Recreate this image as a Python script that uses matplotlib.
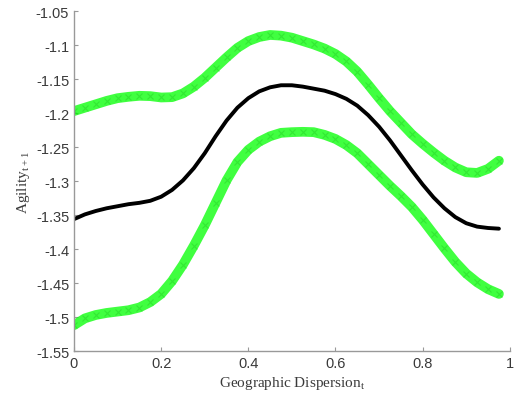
import numpy as np
import matplotlib.pyplot as plt

# data
x = [0, 0.025, 0.05, 0.075, 0.1, 0.125, 0.15, 0.175, 0.2, 0.225,
     0.25, 0.275, 0.3, 0.325, 0.35, 0.375, 0.4, 0.425, 0.45, 0.475,
     0.5, 0.525, 0.55, 0.575, 0.6, 0.625, 0.65, 0.675, 0.7, 0.725,
     0.75, 0.775, 0.8, 0.825, 0.85, 0.875, 0.9, 0.925, 0.95, 0.975]
upper = [-1.197, -1.192, -1.187, -1.182, -1.178, -1.176, -1.1745, -1.175, -1.177, -1.1765,
         -1.171, -1.161, -1.148, -1.133, -1.118, -1.104, -1.094, -1.088, -1.085, -1.086,
         -1.089, -1.094, -1.099, -1.105, -1.113, -1.124, -1.139, -1.158, -1.178, -1.197,
         -1.214, -1.231, -1.245, -1.258, -1.270, -1.280, -1.287, -1.288, -1.282, -1.270]
mid = [-1.356, -1.349, -1.344, -1.340, -1.337, -1.334, -1.332, -1.329, -1.323, -1.313,
       -1.299, -1.281, -1.259, -1.234, -1.211, -1.192, -1.178, -1.168, -1.162, -1.159,
       -1.159, -1.161, -1.164, -1.167, -1.172, -1.179, -1.189, -1.203, -1.220, -1.240,
       -1.262, -1.284, -1.305, -1.324, -1.340, -1.353, -1.362, -1.367, -1.369, -1.370]
lower = [-1.512, -1.502, -1.497, -1.494, -1.492, -1.490, -1.486, -1.478, -1.466, -1.447,
         -1.423, -1.395, -1.365, -1.332, -1.299, -1.272, -1.254, -1.242, -1.234, -1.229,
         -1.228, -1.2275, -1.228, -1.232, -1.238, -1.247, -1.259, -1.275, -1.291, -1.307,
         -1.322, -1.338, -1.357, -1.378, -1.399, -1.419, -1.436, -1.449, -1.459, -1.466]

fig = plt.figure(figsize=(5.16, 4.06), dpi=100)
ax = fig.add_axes([0.1434, 0.133, 0.8446, 0.837])

## bands and estimate
for band in (upper, lower):
    ax.plot(x, band, color='#00ff00', lw=7, alpha=0.75, solid_capstyle='round',
            solid_joinstyle='round')
    ax.plot(x, band, color='#22cc22', lw=0, marker='x', ms=5, mew=0.8, alpha=0.45)
ax.plot(x, mid, color='black', lw=2.8, solid_capstyle='round', solid_joinstyle='round')

## axes config
ax.set_xlim(0, 1)
ax.set_ylim(-1.55, -1.05)
ax.set_xticks(np.arange(0, 1.01, 0.2))
ax.set_xticklabels(['0', '0.2', '0.4', '0.6', '0.8', '1'])
ax.set_yticks(np.arange(-1.55, -1.049, 0.05))
ax.set_yticklabels(['-1.55', '-1.5', '-1.45', '-1.4', '-1.35', '-1.3', '-1.25',
                    '-1.2', '-1.15', '-1.1', '-1.05'])
for s in ('top', 'right'):
    ax.spines[s].set_visible(False)
for s in ('left', 'bottom'):
    ax.spines[s].set_color('#999999')
    ax.spines[s].set_linewidth(1.0)
ax.tick_params(direction='in', length=3, color='#999999', labelcolor='#3a3a3a',
               labelsize=10.5)
for lab in ax.get_xticklabels() + ax.get_yticklabels():
    lab.set_family('Liberation Sans')

ax.set_xlabel(r'Geographic Dispersion$_\mathregular{t}$', family='Liberation Serif',
              fontsize=11, color='#3a3a3a', labelpad=3)
ax.set_ylabel(r'Agility$_\mathregular{t+1}$', family='Liberation Serif',
              fontsize=11, color='#3a3a3a', labelpad=3)

fig.savefig('out.png', dpi=100)
